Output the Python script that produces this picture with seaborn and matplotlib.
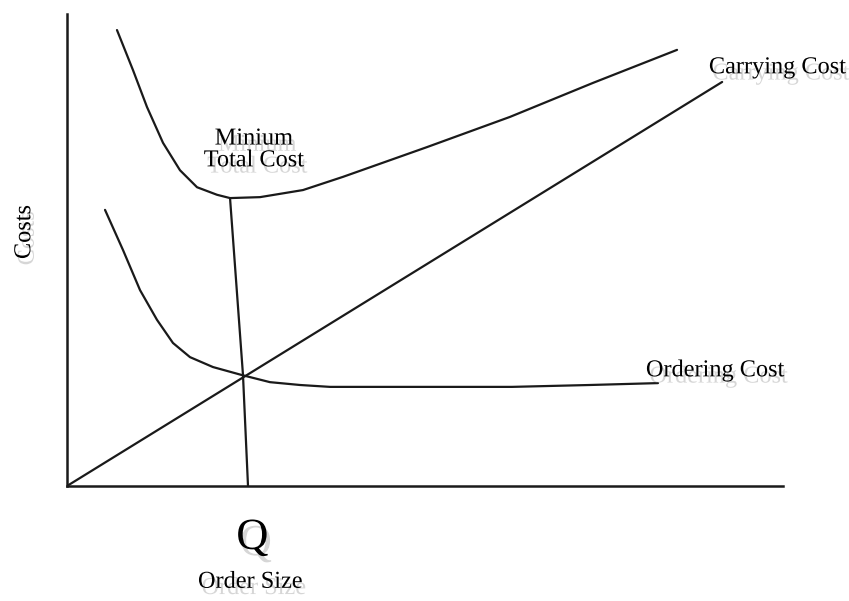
import matplotlib
matplotlib.use("Agg")
import matplotlib.pyplot as plt
import matplotlib.patheffects as pe
import seaborn as sns
import pandas as pd

# ---- data (arbitrary units 0-100) ----
carry_x = [0.0, 91.5]
carry_y = [0.0, 85.6]

total_x = [6.98, 9.22, 11.17, 13.41, 15.78, 18.16, 20.95, 22.77, 26.96, 32.96, 38.55, 50.28, 61.87, 73.46, 85.2]
total_y = [96.6, 88.1, 80.3, 72.7, 66.9, 63.3, 61.7, 61.0, 61.2, 62.7, 65.5, 71.8, 78.2, 85.4, 92.4]

order_x = [5.31, 7.82, 10.2, 12.57, 14.8, 17.18, 20.39, 24.44, 28.35, 32.54, 36.73, 62.15, 73.04, 82.54]
order_y = [58.5, 50.0, 41.5, 35.2, 30.3, 27.3, 25.2, 23.5, 22.0, 21.4, 21.0, 21.0, 21.4, 21.8]

q_x = [22.77, 24.58, 25.28]
q_y = [61.0, 23.5, 0.0]

sns.set_theme(style="white")
plt.rcParams['font.family'] = ['Liberation Serif', 'DejaVu Serif']

fig = plt.figure(figsize=(8.49, 6.01), dpi=100)
ax = fig.add_axes([67/849, 115/601, 716/849, 472/601])

line_kw = dict(color="#1a1a1a", linewidth=1.6, ax=ax, sort=False, estimator=None)
sns.lineplot(data=pd.DataFrame({"x": carry_x, "y": carry_y}), x="x", y="y", **line_kw)
sns.lineplot(data=pd.DataFrame({"x": total_x, "y": total_y}), x="x", y="y", **line_kw)
sns.lineplot(data=pd.DataFrame({"x": order_x, "y": order_y}), x="x", y="y", **line_kw)
sns.lineplot(data=pd.DataFrame({"x": q_x, "y": q_y}), x="x", y="y", **line_kw)

ax.set_xlim(0, 100)
ax.set_ylim(0, 100)
ax.set_xticks([])
ax.set_yticks([])
ax.set_xlabel("")
ax.set_ylabel("")
for s in ["top", "right"]:
    ax.spines[s].set_visible(False)
for s in ["left", "bottom"]:
    ax.spines[s].set_color("#1a1a1a")
    ax.spines[s].set_linewidth(1.8)

shadow = [pe.withSimplePatchShadow(offset=(2.5, -4.5), shadow_rgbFace="0.6", alpha=0.4)]
tkw = dict(color="black", ha="center", va="center", clip_on=False, path_effects=shadow)

ax.text(26.1, 71.2, "Minium\nTotal Cost", fontsize=17.5, linespacing=1.05, **tkw)
ax.text(99.2, 88.6, "Carrying Cost", fontsize=17.5, **tkw)
ax.text(90.5, 24.4, "Ordering Cost", fontsize=17.5, **tkw)
ax.text(-5.9, 53.8, "Costs", fontsize=17.5, rotation=90, **tkw)
ax.text(25.9, -11.0, "Q", fontsize=32, **tkw)
ax.text(25.6, -20.4, "Order Size", fontsize=17.5, **tkw)

fig.savefig("out.png", dpi=100, facecolor="white")
